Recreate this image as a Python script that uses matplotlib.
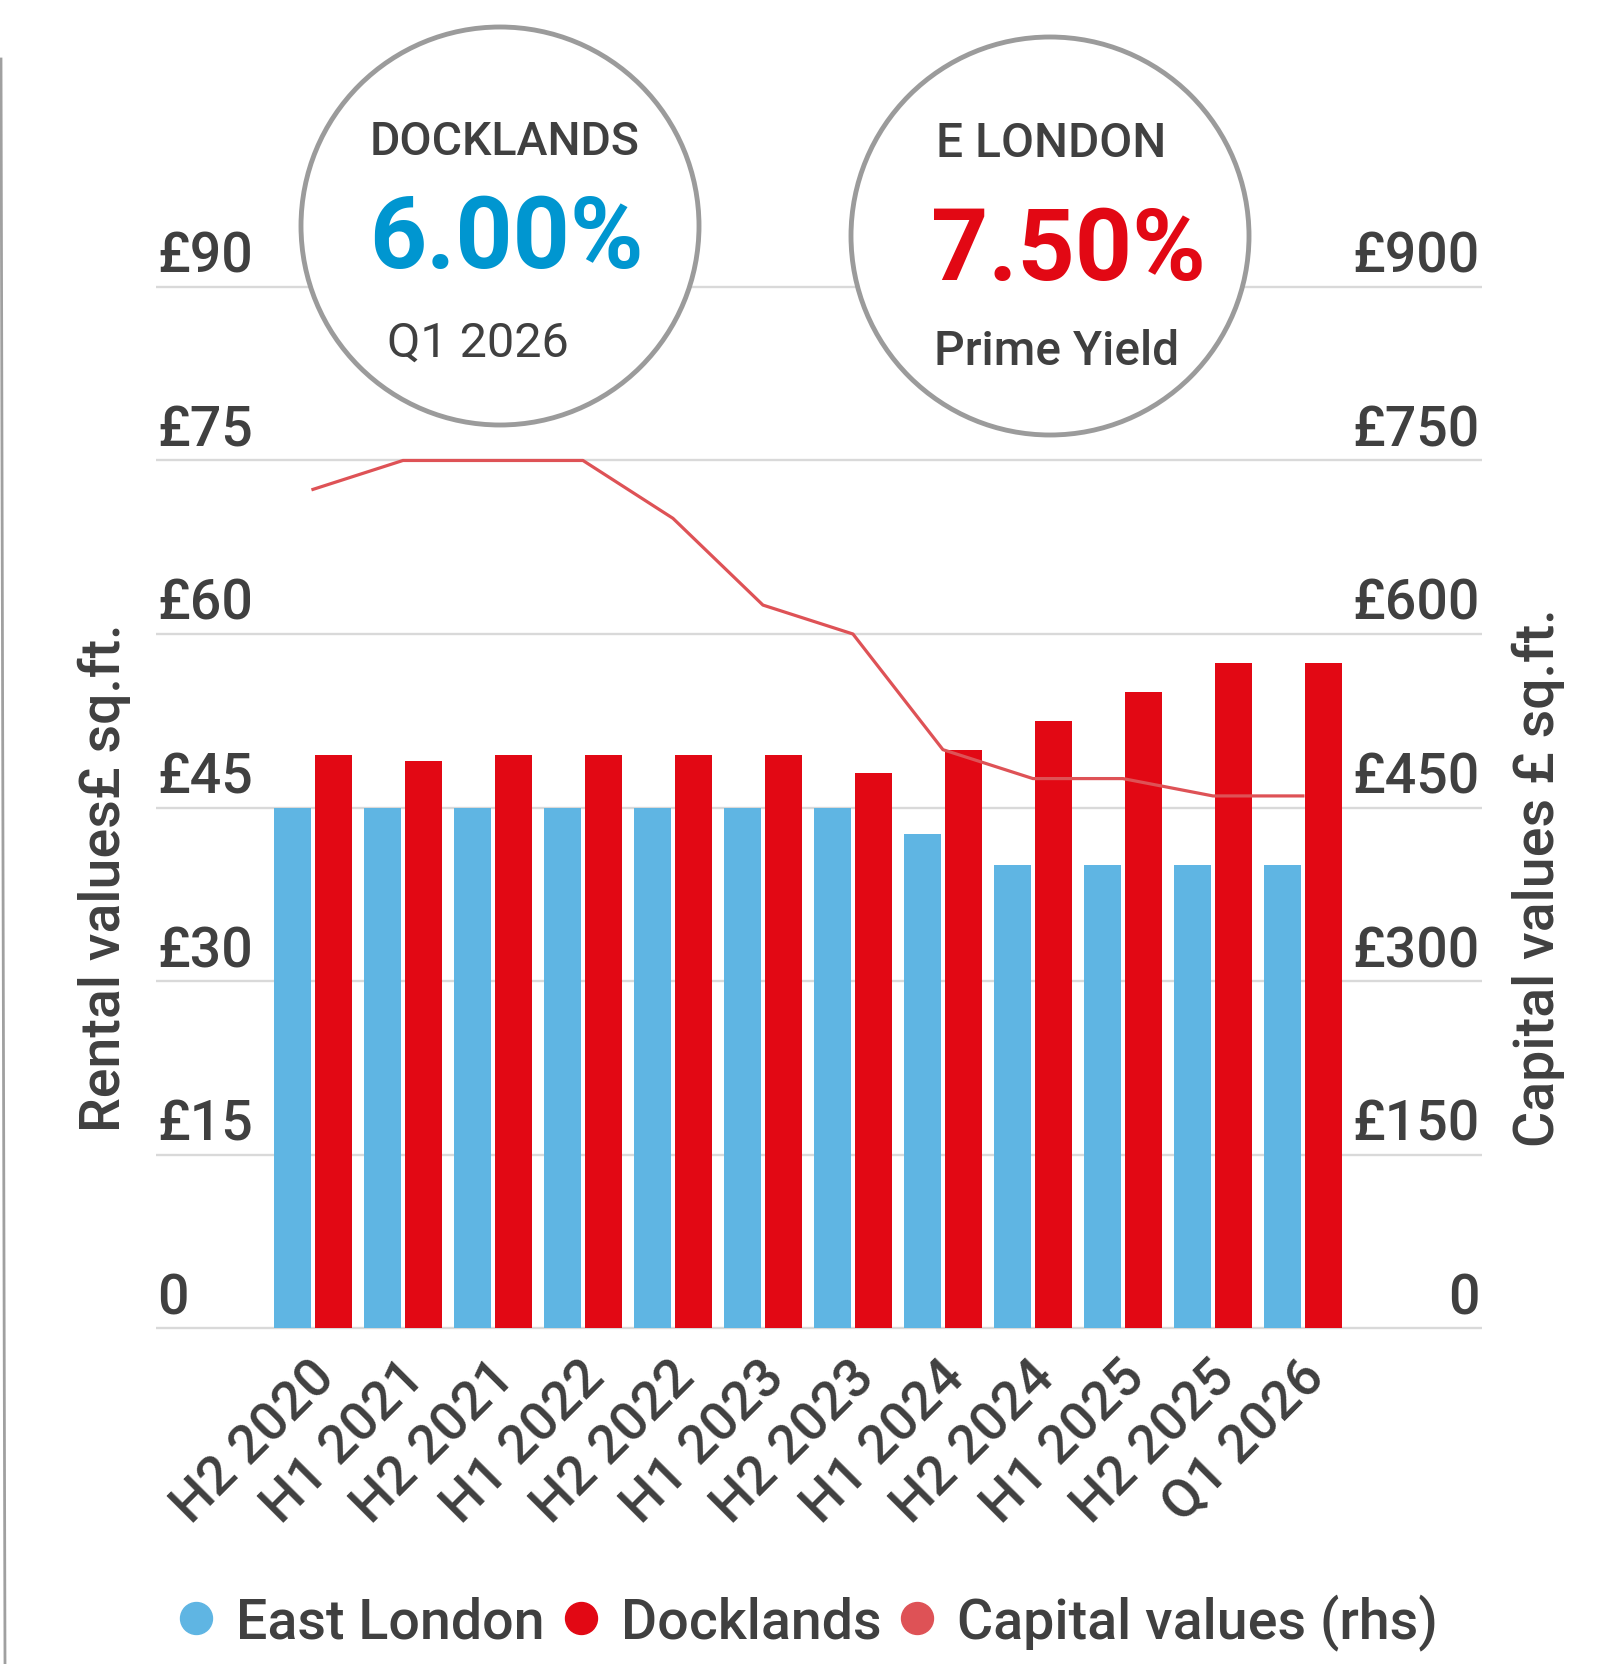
import matplotlib
matplotlib.use("Agg")
import numpy as np
import matplotlib.pyplot as plt
from matplotlib.patches import Ellipse
from matplotlib.lines import Line2D
from matplotlib.transforms import blended_transform_factory, ScaledTranslation

plt.rcParams["font.family"] = ["Roboto", "DejaVu Sans"]

# data
periods = ["H2 2020", "H1 2021", "H2 2021", "H1 2022", "H2 2022", "H1 2023",
           "H2 2023", "H1 2024", "H2 2024", "H1 2025", "H2 2025", "Q1 2026"]
east_london = [45, 45, 45, 45, 45, 45, 45, 42.7, 40, 40, 40, 40]
docklands = [49.5, 49, 49.5, 49.5, 49.5, 49.5, 48, 50, 52.5, 55, 57.5, 57.5]
capital_values = [725, 750, 750, 750, 700, 625, 600, 500, 475, 475, 460, 460]
left_ticks = [0, 15, 30, 45, 60, 75, 90]
left_labels = ["0", "£15", "£30", "£45", "£60", "£75", "£90"]
right_labels = ["0", "£150", "£300", "£450", "£600", "£750", "£900"]

BLUE = "#5FB5E3"
RED = "#E20814"
LINE = "#DE5256"
TXT = "#404040"
W, H = 1611, 1665

fig = plt.figure(figsize=(W / 100, H / 100), dpi=100)
# axes box in pixels: x 156..1482, y (from top) 276.4..1340.6
ax = fig.add_axes([156 / W, (H - 1340.6) / H, 1326 / W, (1340.6 - 276.4) / H])
ax.set_xlim(-1.744, 12.99)
ax.set_ylim(-1, 91)

x = np.arange(len(periods))
ax.bar(x - 0.225, east_london, 0.41, color=BLUE, zorder=2)
ax.bar(x + 0.225, docklands, 0.41, color=RED, zorder=2)

ax2 = ax.twinx()
ax2.set_ylim(-10, 910)
ax2.plot(x, capital_values, color=LINE, lw=2.3, zorder=3)
ax2.set_yticks([])
for s in ax2.spines.values():
    s.set_visible(False)

ax.set_yticks(left_ticks)
ax.grid(axis="y", color="#D9D9D9", lw=1.7)
ax.set_axisbelow(True)
ax.tick_params(left=False, right=False, labelleft=False,
               bottom=False, labelbottom=False)
for s in ax.spines.values():
    s.set_visible(False)

# y tick labels sit above the gridlines
up = ScaledTranslation(0, 0.15, fig.dpi_scale_trans)
tr = blended_transform_factory(ax.transAxes, ax.transData) + up
for v, l, r in zip(left_ticks, left_labels, right_labels):
    ax.text(0.001, v, l, transform=tr, ha="left", va="baseline",
            fontsize=40, fontweight="medium", color=TXT)
    ax.text(0.998, v, r, transform=tr, ha="right", va="baseline",
            fontsize=40, fontweight="medium", color=TXT)

# rotated category labels
xtr = blended_transform_factory(ax.transData, ax.transAxes) + \
    ScaledTranslation(-0.04, -0.11, fig.dpi_scale_trans)
for i, p in enumerate(periods):
    ax.text(i, 0, p, transform=xtr, rotation=45, ha="right", va="top",
            rotation_mode="anchor", fontsize=39, fontweight="medium", color=TXT)

fig.text(104 / W, 1 - 878 / H, "Rental values£ sq.ft.", rotation=90,
         ha="center", va="center", fontsize=40, fontweight="medium", color=TXT)
fig.text(1538 / W, 1 - 878 / H, "Capital values £ sq.ft.", rotation=90,
         ha="center", va="center", fontsize=40, fontweight="medium", color=TXT)

# callout circles
for cx, cy in [(500, 227), (1050, 237)]:
    fig.add_artist(Ellipse((cx / W, 1 - cy / H), 398 / W, 398 / H,
                           transform=fig.transFigure, facecolor="white",
                           edgecolor="#9B9B9B", lw=3.5, zorder=5))

def ftext(px, py, s, **kw):
    fig.text(px / W, 1 - py / H, s, ha="center", va="baseline", zorder=6, **kw)

ftext(505, 155, "DOCKLANDS", fontsize=33.5, fontweight="medium", color=TXT)
ftext(506, 268, "6.00%", fontsize=72, fontweight="bold", color="#0096D0")
ftext(478, 357, "Q1 2026", fontsize=35, color=TXT)
ftext(1051, 157, "E LONDON", fontsize=34.5, fontweight="medium", color=TXT)
ftext(1068, 280, "7.50%", fontsize=72, fontweight="bold", color=RED)
ftext(1057, 365, "Prime Yield", fontsize=34.5, fontweight="medium", color=TXT)

# thin frame line at the left edge
fig.add_artist(Line2D([1 / W, 5 / W], [1 - 60 / H, 0], transform=fig.transFigure,
                      color="#A0A0A0", lw=2))

handles = [Line2D([], [], ls="none", marker="o", markersize=23, color=c)
           for c in (BLUE, RED, LINE)]
fig.legend(handles, ["East London", "Docklands", "Capital values (rhs)"],
           loc="center", bbox_to_anchor=(0.502, (H - 1623) / H), ncol=3,
           frameon=False, prop={"size": 40, "weight": "medium"},
           handlelength=0.6, handletextpad=0.42,
           columnspacing=0.35, labelcolor=TXT, borderpad=0, borderaxespad=0)

fig.savefig("out.png", dpi=100, facecolor="white")
